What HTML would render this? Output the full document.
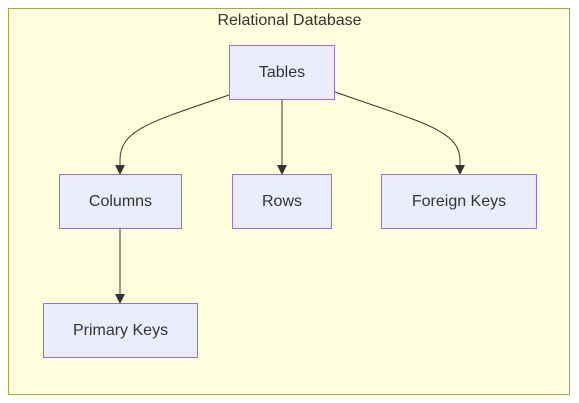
<!DOCTYPE html>
<html><head><style>body{margin:0;background:#fff}svg{display:block}</style></head><body>
<svg width="579" height="403" xmlns="http://www.w3.org/2000/svg" font-family="'Liberation Sans',Arial,sans-serif" font-size="16" fill="#333">
<defs><marker id="a" markerWidth="10" markerHeight="10" refX="9" refY="5" orient="auto" markerUnits="userSpaceOnUse"><path d="M0,0L10,5L0,10z" fill="#333"/></marker></defs>
<rect x="8.5" y="8.5" width="561" height="386" fill="#ffffde" stroke="#aaaa33"/>
<text x="289.5" y="25" text-anchor="middle">Relational Database</text>
<g fill="none" stroke="#333" stroke-width="1">
<path d="M229,95 C150,122 120,130 120,160 L120,174" marker-end="url(#a)"/>
<path d="M282,99 L282,174" marker-end="url(#a)"/>
<path d="M335,92 C420,122 460,130 460,160 L460,174" marker-end="url(#a)"/>
<path d="M120,228 L120,303" marker-end="url(#a)"/>
</g>
<g fill="#ECECFF" stroke="#9370DB">
<rect x="229.5" y="45.5" width="105" height="54"/>
<rect x="59.5" y="174.5" width="122" height="54"/>
<rect x="232.5" y="174.5" width="99" height="54"/>
<rect x="381.5" y="174.5" width="155" height="54"/>
<rect x="43.5" y="303.5" width="154" height="54"/>
</g>
<g text-anchor="middle">
<text x="282" y="77">Tables</text>
<text x="120.5" y="206">Columns</text>
<text x="282" y="206">Rows</text>
<text x="459" y="206">Foreign Keys</text>
<text x="120.5" y="335">Primary Keys</text>
</g>
</svg>
</body></html>
